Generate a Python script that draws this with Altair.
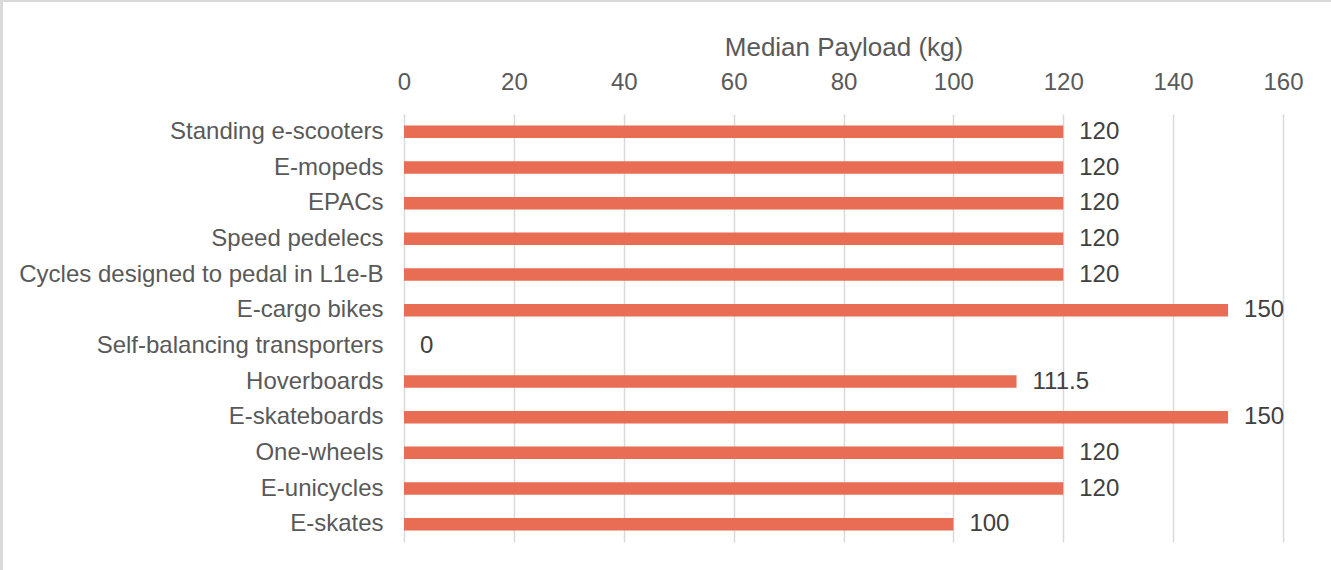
import altair as alt
import pandas as pd

categories = [
    "Standing e-scooters",
    "E-mopeds",
    "EPACs",
    "Speed pedelecs",
    "Cycles designed to pedal in L1e-B",
    "E-cargo bikes",
    "Self-balancing transporters",
    "Hoverboards",
    "E-skateboards",
    "One-wheels",
    "E-unicycles",
    "E-skates",
]
payload = [120, 120, 120, 120, 120, 150, 0, 111.5, 150, 120, 120, 100]
x_ticks = [0, 20, 40, 60, 80, 100, 120, 140, 160]

df = pd.DataFrame({
    "category": categories,
    "payload": payload,
    "label": [f"{v:g}" for v in payload],
})

FONT = "Liberation Sans"
BAR = "#E96D55"
GRID = "#D9D9D9"

W, H = 879, 428
PAD = {"left": 404, "top": 114, "right": 48, "bottom": 28}

y_enc = alt.Y(
    "category:N",
    sort=categories,
    scale=alt.Scale(paddingInner=0.65, paddingOuter=0.325),
    axis=alt.Axis(
        title=None,
        domain=False,
        ticks=False,
        grid=False,
        labelFont=FONT,
        labelFontSize=24,
        labelColor="#595959",
        labelPadding=21,
        labelLimit=400,
    ),
)

x_enc = alt.X(
    "payload:Q",
    scale=alt.Scale(domain=[0, 160], nice=False, zero=True),
    axis=alt.Axis(
        orient="top",
        values=x_ticks,
        title="Median Payload (kg)",
        titleFont=FONT,
        titleFontSize=26,
        titleFontWeight="normal",
        titleColor="#595959",
        titlePadding=10,
        labelFont=FONT,
        labelFontSize=24,
        labelColor="#595959",
        labelPadding=20,
        labelFlush=False,
        labelOverlap=False,
        domain=False,
        ticks=False,
        grid=True,
        gridColor=GRID,
        gridWidth=1.5,
    ),
)

bars = alt.Chart(df).mark_bar(color=BAR).encode(x=x_enc, y=y_enc)

labels = alt.Chart(df).mark_text(
    align="left", baseline="middle", dx=16, font=FONT, fontSize=24, color="#404040"
).encode(
    x=alt.X("payload:Q"),
    y=alt.Y("category:N", sort=categories),
    text="label:N",
)

frame_v = alt.Chart(df).mark_rule(color=GRID, strokeWidth=2).encode(
    x=alt.value(-402.5), y=alt.value(-114), y2=alt.value(H + 28)
)
frame_h = alt.Chart(df).mark_rule(color=GRID, strokeWidth=2).encode(
    x=alt.value(-404), x2=alt.value(W + 48), y=alt.value(-113)
)

chart = (
    alt.layer(bars, labels, frame_v, frame_h)
    .properties(
        width=W,
        height=H,
        autosize=alt.AutoSizeParams(type="none"),
        padding=PAD,
        background="white",
    )
    .configure_view(stroke=None)
)

chart.save("out.html", embed_options={"renderer": "svg", "actions": False})
